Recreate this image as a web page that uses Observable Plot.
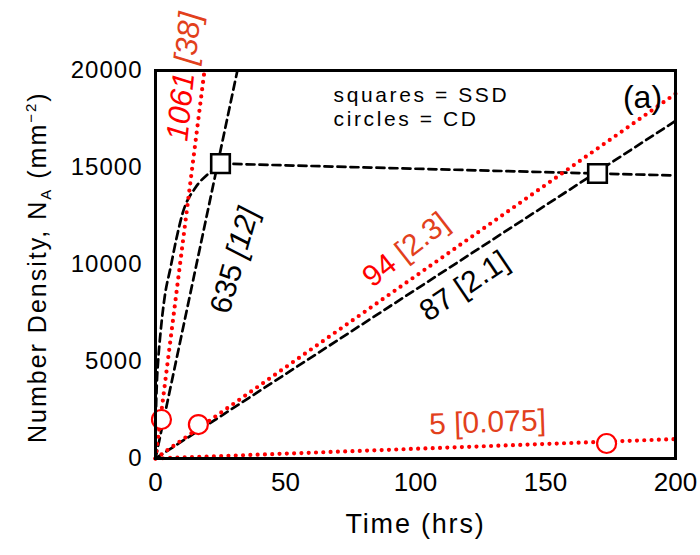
<!DOCTYPE html>
<html>
<head>
<meta charset="utf-8">
<script src="https://cdn.jsdelivr.net/npm/d3@7"></script>
<script src="https://cdn.jsdelivr.net/npm/@observablehq/plot@0.6"></script>
<style>
  body { margin: 0; background: #fff; }
  #chart svg { display: block; }
  #chart [aria-label="y-axis tick label"] text { letter-spacing: 1px; }
  #chart [aria-description="symbol key"] text { letter-spacing: 2.6px; }
  #chart [aria-description="x title"] text { letter-spacing: 1.8px; }
</style>
</head>
<body>
<div id="chart"></div>
<script>
// Axis ticks
const xTicks = [0, 50, 100, 150, 200];
const yTicks = [0, 5000, 10000, 15000, 20000];

// SSD (squares): nucleation rates (mm^-2 h^-1) and bracketed values
const ssdRate = [635, 87];
const ssdNote = ["[12]", "[2.1]"];
// SSD measured number densities
const ssdTime = [25, 170];
const ssdDensity = [15200, 14690];
// SSD trend after the first square
const plateauTime = [25, 170, 200];
const plateauDensity = [15200, 14690, 14590];
// SSD early growth curve
const earlyTime = [0, 0.15, 0.5, 1, 1.9, 3.5, 5.8, 8, 10.4, 15.4, 20.4, 25];
const earlyDensity = [0, 2000, 3800, 5000, 6440, 8300, 9850, 11300, 12630, 13970, 14690, 15200];

// CD (circles): nucleation rates and bracketed values
const cdRate = [1061, 94, 5];
const cdNote = ["[38]", "[2.3]", "[0.075]"];
// CD measured number densities
const cdTime = [2.3, 16.5, 173.5];
const cdDensity = [2010, 1750, 773];

const tMax = 200, nMax = 20000;
const RED = "#ff0000", ORANGE = "#e2401c";

// Straight-line fits N = rate * t, clipped to the plotting window
const fitLines = rates => rates.flatMap(rate => {
  const tEnd = Math.min(tMax, nMax / rate);
  return [{rate, t: 0, n: 0}, {rate, t: tEnd, n: rate * tEnd}];
});
const pts = (ts, ns) => ts.map((t, i) => ({t, n: ns[i]}));

const fmt = d3.format("d");
const dashed = {stroke: "#000", strokeWidth: 2.7, strokeDasharray: "8 5"};

const plot = Plot.plot({
  width: 700,
  height: 555,
  marginLeft: 155,
  marginRight: 25,
  marginTop: 70,
  marginBottom: 97,
  style: {fontFamily: "'Liberation Sans', Arial, sans-serif", background: "#fff", color: "#000"},
  x: {domain: [0, tMax]},
  y: {domain: [0, nMax]},
  marks: [
    Plot.axisX({ticks: xTicks, tickSize: 0, tickPadding: 14, fontSize: 26, tickFormat: fmt, label: null}),
    Plot.axisY({ticks: yTicks, tickSize: 0, tickPadding: 13, fontSize: 24, tickFormat: fmt, label: null}),

    // SSD fits and trends (black dashed)
    Plot.line(fitLines(ssdRate), {x: "t", y: "n", z: "rate", ...dashed}),
    Plot.line(pts(earlyTime, earlyDensity), {x: "t", y: "n", curve: "monotone-x", ...dashed}),
    Plot.line(pts(plateauTime, plateauDensity), {x: "t", y: "n", ...dashed}),

    // CD fits (red dotted)
    Plot.line(fitLines(cdRate), {x: "t", y: "n", z: "rate", stroke: RED, strokeWidth: 4.2, strokeDasharray: "0 7.3", strokeLinecap: "round"}),

    // Measured points
    Plot.dot(pts(ssdTime, ssdDensity), {x: "t", y: "n", symbol: "square", r: 10.5, fill: "#fff", stroke: "#000", strokeWidth: 2.6}),
    Plot.dot(pts(cdTime, cdDensity), {x: "t", y: "n", r: 9.5, fill: "#fff", stroke: RED, strokeWidth: 2.2}),

    // Rate labels
    Plot.text([String(cdRate[0])], {x: 11.15, y: 19900, rotate: -84, textAnchor: "end", fill: RED, fontSize: 31, fontStyle: "italic"}),
    Plot.text(["\u00a0" + cdNote[0]], {x: 11.15, y: 19900, rotate: -84, textAnchor: "start", fill: ORANGE, fontSize: 31, fontStyle: "italic"}),
    Plot.text([String(ssdRate[0])], {x: 30, y: 10000, rotate: -74, textAnchor: "end", fill: "#000", fontSize: 30}),
    Plot.text(["\u00a0" + ssdNote[0]], {x: 30, y: 10000, rotate: -74, textAnchor: "start", fill: "#000", fontSize: 30, fontStyle: "italic"}),
    Plot.text([String(cdRate[1])], {x: 91.2, y: 10220, rotate: -38, textAnchor: "end", fill: RED, fontSize: 30}),
    Plot.text(["\u00a0" + cdNote[1]], {x: 91.2, y: 10220, rotate: -38, textAnchor: "start", fill: ORANGE, fontSize: 30}),
    Plot.text([String(ssdRate[1])], {x: 113.5, y: 8400, rotate: -34, textAnchor: "end", fill: "#000", fontSize: 30}),
    Plot.text(["\u00a0" + ssdNote[1]], {x: 113.5, y: 8400, rotate: -34, textAnchor: "start", fill: "#000", fontSize: 30}),
    Plot.text([cdRate[2] + " " + cdNote[2]], {x: 127.7, y: 1855, rotate: -2, fill: ORANGE, fontSize: 30}),

    // Key and panel letter
    Plot.text(["squares = SSD", "circles = CD"], {x: 68.5, y: [18711, 17500], textAnchor: "start", fill: "#000", fontSize: 21, ariaDescription: "symbol key"}),
    Plot.text(["(a)"], {x: 187.3, y: 18600, fill: "#000", fontSize: 32}),

    // X title
    Plot.text(["Time (hrs)"], {frameAnchor: "bottom", dy: 74, fill: "#000", fontSize: 27, ariaDescription: "x title"}),

    Plot.frame({stroke: "#000", strokeWidth: 3})
  ]
});

document.getElementById("chart").append(plot);

// Y title with subscript and superscript, reading upward from the bottom
const yTitle = d3.select(plot).append("text")
  .attr("transform", "translate(46,443) rotate(-90)")
  .attr("text-anchor", "start")
  .attr("font-family", "'Liberation Sans', Arial, sans-serif")
  .attr("font-size", 25)
  .attr("letter-spacing", "2px")
  .attr("fill", "#000");
yTitle.append("tspan").text("Number Density, N");
yTitle.append("tspan").attr("font-size", 15).attr("dy", 5).text("A");
yTitle.append("tspan").attr("dy", -5).text(" (mm");
yTitle.append("tspan").attr("font-size", 15).attr("dy", -10).text("\u22122");
yTitle.append("tspan").attr("dy", 10).text(")");
</script>
</body>
</html>
